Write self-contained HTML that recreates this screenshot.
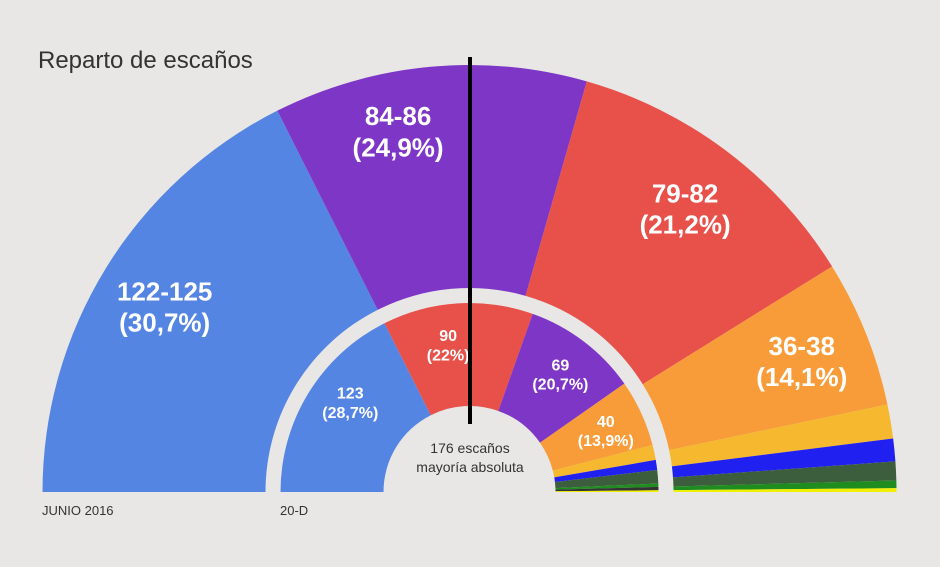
<!DOCTYPE html>
<html><head><meta charset="utf-8"><style>
body{margin:0;background:#e8e7e5;}
svg{display:block;font-family:"Liberation Sans",sans-serif;}
</style></head><body>
<svg id="chart" width="940" height="567" viewBox="0 0 940 567">
<rect width="940" height="567" fill="#e8e7e5"/>
<text x="38" y="68" font-size="24" fill="#333">Reparto de escaños</text>
<g id="outer"></g>
<g id="inner"></g>
<line x1="470" y1="57" x2="470" y2="424" stroke="#000" stroke-width="4"/>
<text x="470" y="453" font-size="14" fill="#333" text-anchor="middle">176 escaños</text>
<text x="470" y="472" font-size="14" fill="#333" text-anchor="middle">mayoría absoluta</text>
<text x="42" y="515" font-size="13" fill="#333">JUNIO 2016</text>
<text x="280" y="515" font-size="13" fill="#333">20-D</text>
</svg>
<script>
const TOTAL = 350;
const outerSeats = [123, 83, 82, 39, 9, 6, 5, 2, 1];
const outerLabels = ["122-125", "84-86", "79-82", "36-38", "", "", "", "", ""];
const outerPct = ["(30,7%)", "(24,9%)", "(21,2%)", "(14,1%)", "", "", "", "", ""];
const innerSeats = [123, 90, 69, 40, 9, 6, 8, 2, 2, 1];
const innerLabels = ["123", "90", "69", "40", "", "", "", "", "", ""];
const innerPct = ["(28,7%)", "(22%)", "(20,7%)", "(13,9%)", "", "", "", "", "", ""];
const outerColors = ["#5585e2","#7e36c6","#e8504a","#f89c3a","#f5b82e","#2020f0","#3c5e3c","#1e8c1e","#f0f000"];
const innerColors = ["#5585e2","#e8504a","#7e36c6","#f89c3a","#f5b82e","#2020f0","#3c5e3c","#1e8c1e","#333333","#f0f000"];
const CX = 469.5, CY = 492;
const NS = "http://www.w3.org/2000/svg";
function ang(c){ return Math.PI - c / TOTAL * Math.PI; }
function pt(r, a){ return [CX + r * Math.cos(a), CY - r * Math.sin(a)]; }
function arcPath(r0, r1, a0, a1){
  const p0 = pt(r1, a0), p1 = pt(r1, a1), p2 = pt(r0, a1), p3 = pt(r0, a0);
  return `M${p0[0]},${p0[1]} A${r1},${r1} 0 0 1 ${p1[0]},${p1[1]} L${p2[0]},${p2[1]} A${r0},${r0} 0 0 0 ${p3[0]},${p3[1]} Z`;
}
function draw(gid, seats, colors, labels, pcts, r0, r1, lr, fs, name){
  const g = document.getElementById(gid);
  let cum = 0;
  seats.forEach((s, i) => {
    const a0 = ang(cum), a1 = ang(cum + s);
    const p = document.createElementNS(NS, "path");
    p.setAttribute("d", arcPath(r0, r1, a0, a1));
    p.setAttribute("fill", colors[i]);
    
    
    g.appendChild(p);
    if (labels[i]) {
      let am = ang(cum + s / 2);
      let rr = lr;
      if (name === 'outer' && i === 1) { am += 0.1; rr += 12; }
      if (name === 'inner' && i === 0) am -= 0.1;
      if (name === 'inner' && i === 1) am += 0.08;
      const c = pt(rr, am);
      [labels[i], pcts[i]].forEach((t, k) => {
        const tx = document.createElementNS(NS, "text");
        tx.setAttribute("x", c[0]);
        tx.setAttribute("y", c[1] + (k === 0 ? -fs * 0.15 : fs * 1.05));
        tx.setAttribute("text-anchor", "middle");
        tx.setAttribute("font-size", fs);
        tx.setAttribute("font-weight", "bold");
        tx.setAttribute("fill", "#fff");
        tx.textContent = t;
        
        
        g.appendChild(tx);
      });
    }
    cum += s;
  });
}
draw("outer", outerSeats, outerColors, outerLabels, outerPct, 204, 427, 358, 26, "outer");
draw("inner", innerSeats, innerColors, innerLabels, innerPct, 86, 189, 150, 16, "inner");
</script>
</body></html>
